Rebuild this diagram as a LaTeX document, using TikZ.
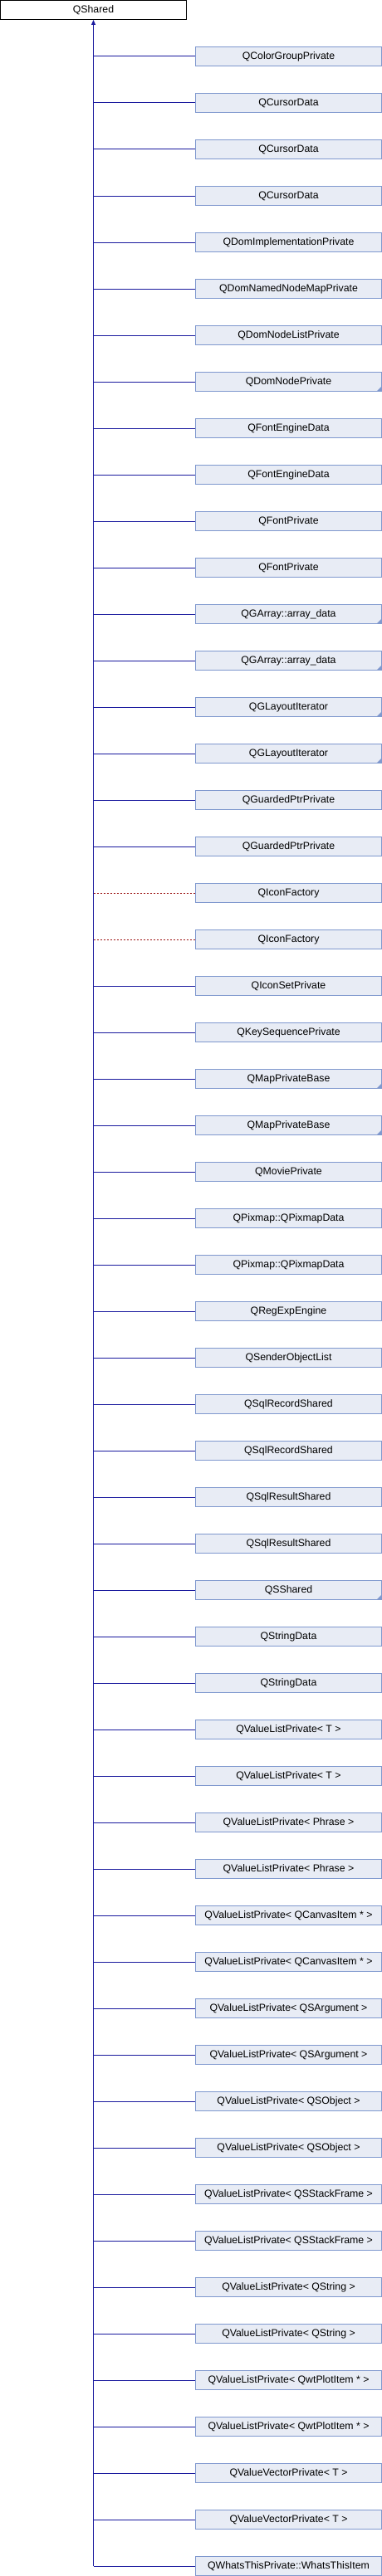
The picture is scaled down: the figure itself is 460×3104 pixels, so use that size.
\documentclass[tikz,border=0pt]{standalone}
\usepackage{fontspec}
\setmainfont{Liberation Sans}
\usetikzlibrary{arrows.meta}
\definecolor{edge}{HTML}{1A1A9E}
\definecolor{boxfill}{HTML}{E8ECF5}
\definecolor{boxdraw}{HTML}{7F98CE}
\definecolor{tmpl}{HTML}{9A1010}
\begin{document}
\begin{tikzpicture}[x=1pt,y=-1pt,
  font=\fontsize{12.3}{14}\selectfont,
  basebox/.style={draw=black, fill=white, minimum width=224pt, minimum height=23pt, inner sep=0pt, line width=1pt},
  nodeN/.style={draw=boxdraw, fill=boxfill, minimum width=224pt, minimum height=23pt, inner sep=0pt, line width=1pt},
  nodeD/.style={nodeN},
  nodeM/.style={nodeN, path picture={\fill[boxdraw] (path picture bounding box.south east) -- ++(-6pt,0pt) -- ++(6pt,6pt) -- cycle;}},
  lineN/.style={draw=edge, line width=1pt},
  lineM/.style={lineN},
  lineD/.style={draw=tmpl, line width=1pt, dash pattern=on 2.3pt off 1.7pt}]
\useasboundingbox (0,0) rectangle (460,3104);
\node[basebox] (qshared) at (112.5,12) {QShared};
\foreach \lab/\typ [count=\i from 0] in {
  QColorGroupPrivate/N,
  QCursorData/N,
  QCursorData/N,
  QCursorData/N,
  QDomImplementationPrivate/N,
  QDomNamedNodeMapPrivate/N,
  QDomNodeListPrivate/N,
  QDomNodePrivate/M,
  QFontEngineData/N,
  QFontEngineData/N,
  QFontPrivate/N,
  QFontPrivate/N,
  QGArray::array\_data/M,
  QGArray::array\_data/M,
  QGLayoutIterator/M,
  QGLayoutIterator/M,
  QGuardedPtrPrivate/N,
  QGuardedPtrPrivate/N,
  QIconFactory/D,
  QIconFactory/D,
  QIconSetPrivate/N,
  QKeySequencePrivate/N,
  QMapPrivateBase/M,
  QMapPrivateBase/M,
  QMoviePrivate/N,
  QPixmap::QPixmapData/N,
  QPixmap::QPixmapData/N,
  QRegExpEngine/N,
  QSenderObjectList/N,
  QSqlRecordShared/N,
  QSqlRecordShared/N,
  QSqlResultShared/N,
  QSqlResultShared/N,
  QSShared/M,
  QStringData/N,
  QStringData/N,
  QValueListPrivate< T >/N,
  QValueListPrivate< T >/N,
  QValueListPrivate< Phrase >/N,
  QValueListPrivate< Phrase >/N,
  QValueListPrivate< QCanvasItem * >/N,
  QValueListPrivate< QCanvasItem * >/N,
  QValueListPrivate< QSArgument >/N,
  QValueListPrivate< QSArgument >/N,
  QValueListPrivate< QSObject >/N,
  QValueListPrivate< QSObject >/N,
  QValueListPrivate< QSStackFrame >/N,
  QValueListPrivate< QSStackFrame >/N,
  QValueListPrivate< QString >/N,
  QValueListPrivate< QString >/N,
  QValueListPrivate< QwtPlotItem * >/N,
  QValueListPrivate< QwtPlotItem * >/N,
  QValueVectorPrivate< T >/N,
  QValueVectorPrivate< T >/N,
  QWhatsThisPrivate::WhatsThisItem/N} {
  \node[node\typ] (c\i) at (347.5,{68+56*\i}) {\lab};
  \draw[line\typ] (qshared.south |- c\i.west) -- (c\i.west);
}
\draw[lineN, {Triangle[length=6pt,width=5pt]}-] (qshared.south) -- (qshared.south |- c54.west);
\end{tikzpicture}
\end{document}
